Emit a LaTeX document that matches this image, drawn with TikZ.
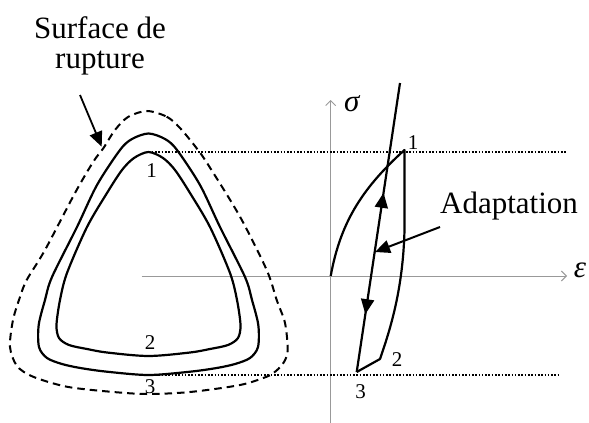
\documentclass[tikz,border=0pt]{standalone}
\usepackage{fontspec}
\setmainfont{Liberation Serif}
\usetikzlibrary{arrows.meta,decorations.markings,calc}
\begin{document}
\begin{tikzpicture}[x=1pt,y=-1pt,
  curve/.style={line width=2.2pt, line join=round},
  axis/.style={draw=black!40, line width=0.9pt},
  dotline/.style={line width=1.6pt, dash pattern=on 1.6pt off 1.7pt},
  dashline/.style={line width=2pt, dash pattern=on 7.5pt off 5pt},
  tip/.style={-{Triangle[length=15pt,width=13pt]}},
  axtip/.style={-{Straight Barb[length=5pt,width=10pt]}},
  lbl/.style={font=\fontsize{31}{31}\selectfont, inner sep=0pt},
  greek/.style={font=\fontsize{31}{31}\selectfont\itshape, inner sep=0pt},
  num/.style={font=\fontsize{21}{21}\selectfont, inner sep=0pt},
]
\useasboundingbox (0,0) rectangle (589,423);

% axes
\coordinate (O) at (330.7,276);
\coordinate (ytop) at (330.7,100);
\coordinate (ybot) at (330.7,423);
\coordinate (xl) at (141.7,276);
\coordinate (xr) at (567,276);
\draw[axis, axtip] (xl) -- (xr);
\draw[axis, axtip] (ybot) -- (ytop);
\node[greek] (sig) at (351.7,104) {σ};
\node[greek] (eps) at (580,270) {ε};

% dotted levels
\coordinate (d1a) at (148.5,152);
\coordinate (d1b) at (567,152);
\coordinate (d3a) at (148.5,375);
\coordinate (d3b) at (560,375);
\draw[dotline] (d1a) -- (d1b);
\draw[dotline] (d3a) -- (d3b);

% inner surface
\draw[curve] plot[smooth cycle, tension=0.5] coordinates {
 (148.5,152) (163,158) (175,170) (190,193) (210,227) (230,273) (237,300)
 (240.5,325) (238,338) (228,345) (210,349) (190,352.5) (148.5,356)
 (107,352.5) (87,349) (69,345) (59,338) (56.5,325) (60,300) (67,273)
 (87,227) (107,193) (122,170) (134,158)};
% outer surface
\draw[curve] plot[smooth cycle, tension=0.5] coordinates {
 (148.5,133.5) (165,139) (177,150) (200,185) (220,227) (245,277) (252,300)
 (258.3,325) (258,347) (250,358) (235,364) (216.7,368) (190,371.7) (148.5,375)
 (107,371.7) (80.3,368) (62,364) (47,358) (39,347) (38.7,325) (45,300)
 (52,277) (77,227) (97,185) (120,150) (132,139)};
% rupture surface
\draw[dashline] plot[smooth cycle, tension=0.5] coordinates {
 (147,111) (166.7,116.7) (180,128) (196.7,148.3) (208.3,165) (240,216.7)
 (266.7,270) (276.7,300) (285,323) (287.7,350) (284,362) (276,371)
 (266.7,376.7) (240,385) (190,392) (147,394) (110,391.7) (66.7,386.7)
 (33,376.7) (17,366) (10,347) (13,320) (20,297) (26.7,280) (45,250)
 (75,193) (93.3,161.7) (103.3,148.3) (115,130) (128,117)};

\node[num] (l1) at (151.5,171) {1};
\node[num] (l2) at (150,343) {2};
\node[num] (l3) at (150,387) {3};

% label rupture surface
\node[lbl, anchor=base] (s1) at (100,38) {Surface de};
\node[lbl, anchor=base] (s2) at (100,68) {rupture};
\coordinate (SA) at (80,95);
\coordinate (SB) at (101.7,146.7);
\draw[line width=1.8pt, tip] (SA) -- (SB);

% stress-strain path
\coordinate (P1) at (404.5,150);
\coordinate (P1b) at (404.5,230);
\coordinate (P2) at (380,359);
\coordinate (P3) at (356.7,372);
\coordinate (T) at (400,83);
\draw[curve] (O) .. controls (340,225) and (360,190) .. (P1) -- (P1b)
  .. controls (403,290) and (390,330) .. (P2) -- (P3);
\draw[curve, postaction=decorate, decoration={markings,
  mark=at position 0.38 with {\arrowreversed{Triangle[length=15pt,width=13pt]}},
  mark=at position 0.8 with {\arrow{Triangle[length=15pt,width=13pt]}}}]
  (T) -- (P3);

\node[num] (r1) at (413,143) {1};
\node[num] (r2) at (397,360) {2};
\node[num] (r3) at (360.7,392) {3};

\node[lbl, anchor=base west] (ad) at (440,213) {Adaptation};
\coordinate (A1) at (440,227);
\coordinate (A2) at (375,252);
\draw[line width=2pt, tip] (A1) -- (A2);
\end{tikzpicture}
\end{document}
